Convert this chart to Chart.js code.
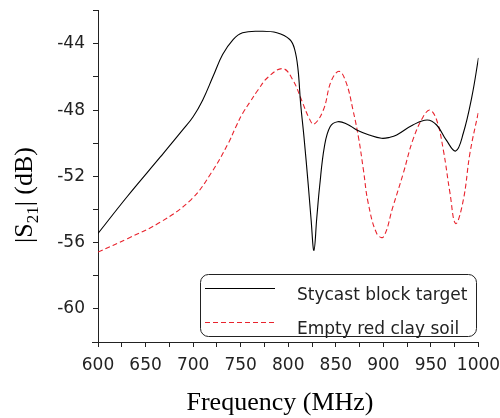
<!DOCTYPE html>
<html>
<head>
<meta charset="utf-8">
<script src="https://cdn.jsdelivr.net/npm/chart.js@4"></script>
<style>
  html, body { margin: 0; padding: 0; background: #fff; }
  #wrap { width: 500px; height: 418px; }
</style>
</head>
<body>
<div id="wrap"><canvas id="myChart" width="500" height="418"></canvas></div>
<script>
// values
var seriesNames = ["Stycast block target", "Empty red clay soil"];

var freqStycast = [600, 631, 666, 689, 700, 710, 721, 731, 742, 752, 770, 788, 801.6, 806.8, 810.3, 813, 816.5, 821, 824, 827, 830, 833, 838, 844, 852, 862, 872, 885, 898, 907, 914, 931, 946, 956, 966, 976, 984, 993, 1000];
var s21Stycast = [-55.45, -53.2, -50.8, -49.2, -48.4, -47.4, -45.96, -44.65, -43.74, -43.33, -43.24, -43.33, -43.74, -44.35, -45.56, -47.6, -49.6, -52.5, -54.6, -56.47, -54.5, -52.6, -50.2, -49.0, -48.7, -48.85, -49.2, -49.5, -49.7, -49.64, -49.5, -48.9, -48.6, -48.9, -49.8, -50.47, -49.4, -47.2, -44.85];

var freqClay = [600, 631, 666, 698, 719, 737, 745, 752, 760, 768, 779, 794.5, 805, 814, 822, 827, 837, 845, 853.5, 861, 868, 874, 879, 884, 893, 900, 910, 921, 931, 942, 949, 956, 963, 970, 976, 984, 991, 1000];
var s21Clay = [-56.57, -55.76, -54.75, -53.4, -51.8, -50.0, -49.0, -48.2, -47.5, -46.8, -46.0, -45.5, -46.2, -47.4, -48.5, -48.85, -47.98, -46.27, -45.66, -46.36, -47.98, -49.7, -51.6, -53.6, -55.45, -55.66, -53.84, -51.8, -49.8, -48.39, -48.0, -48.6, -50.4, -53.0, -54.85, -53.44, -50.6, -48.08];

function pts(xs, ys) {
  return xs.map(function (x, i) { return { x: x, y: ys[i] }; });
}

var axisColor = "#222";
var tickFont = { family: "DejaVu Sans", size: 17 };

// titles and the boxed legend are drawn by hand
var decorations = {
  id: "decorations",
  afterDraw: function (chart) {
    var ctx = chart.ctx, a = chart.chartArea;
    ctx.save();

    // x axis line reaches under the y ticks
    ctx.strokeStyle = axisColor;
    ctx.lineWidth = 1;
    ctx.beginPath();
    ctx.moveTo(a.left - 6, Math.round(a.bottom) + 0.5);
    ctx.lineTo(a.left, Math.round(a.bottom) + 0.5);
    ctx.stroke();

    // x title
    ctx.fillStyle = "#000";
    ctx.font = "26px 'Liberation Serif'";
    ctx.textAlign = "center";
    ctx.textBaseline = "alphabetic";
    ctx.fillText("Frequency (MHz)", 280, 410);

    // y title with subscript
    ctx.save();
    ctx.translate(32, 243);
    ctx.rotate(-Math.PI / 2);
    ctx.textAlign = "left";
    var x = 0;
    ctx.font = "26px 'Liberation Serif'";
    ctx.fillText("|S", x, 0);
    x += ctx.measureText("|S").width;
    ctx.font = "17px 'Liberation Serif'";
    ctx.fillText("21", x, 6);
    x += ctx.measureText("21").width;
    ctx.font = "26px 'Liberation Serif'";
    ctx.fillText("| (dB)", x, 0);
    ctx.restore();

    // legend
    var bx = 200.5, by = 274.5, bw = 276, bh = 62, r = 8;
    ctx.beginPath();
    ctx.roundRect(bx, by, bw, bh, r);
    ctx.fillStyle = "#fff";
    ctx.fill();
    ctx.strokeStyle = "#222";
    ctx.lineWidth = 1;
    ctx.stroke();

    var ds = chart.data.datasets;
    var rows = [288.5, 322.5];
    ctx.font = "17px 'DejaVu Sans'";
    ctx.textAlign = "left";
    for (var i = 0; i < ds.length; i++) {
      ctx.beginPath();
      ctx.setLineDash(ds[i].borderDash || []);
      ctx.strokeStyle = ds[i].borderColor;
      ctx.lineWidth = 1;
      ctx.moveTo(205, rows[i]);
      ctx.lineTo(275, rows[i]);
      ctx.stroke();
      ctx.setLineDash([]);
      ctx.fillStyle = "#222";
      ctx.fillText(ds[i].label, 297, rows[i] + 11);
    }
    ctx.restore();
  }
};

new Chart("myChart", {
  type: "line",
  data: {
    datasets: [{
      label: seriesNames[0],
      data: pts(freqStycast, s21Stycast),
      borderColor: "#000",
      borderWidth: 1.1,
      pointRadius: 0,
      tension: 0.4,
      fill: false
    }, {
      label: seriesNames[1],
      data: pts(freqClay, s21Clay),
      borderColor: "#e8232d",
      borderWidth: 1.1,
      borderDash: [5, 3],
      pointRadius: 0,
      tension: 0.4,
      fill: false
    }]
  },
  options: {
    responsive: false,
    animation: false,
    layout: { padding: 0 },
    plugins: {
      legend: { display: false },
      tooltip: { enabled: false }
    },
    scales: {
      x: {
        type: "linear",
        min: 600,
        max: 1000,
        afterFit: function (s) {
          s.height = 76;
          s.paddingLeft = 0;
          s.paddingRight = 21.5;
        },
        ticks: {
          stepSize: 25,
          autoSkip: false,
          maxRotation: 0,
          padding: 8,
          color: axisColor,
          font: tickFont,
          callback: function (v) { return v % 50 === 0 ? String(v) : ""; }
        },
        grid: { drawOnChartArea: false, tickLength: 5, color: axisColor },
        border: { color: axisColor, width: 1 }
      },
      y: {
        min: -62,
        max: -42,
        afterFit: function (s) {
          s.width = 98;
          s.paddingTop = 10.7;
          s.paddingBottom = 0;
        },
        ticks: {
          stepSize: 2,
          autoSkip: false,
          padding: 8,
          color: axisColor,
          font: tickFont,
          callback: function (v) { return v % 4 === 0 ? String(v) : ""; }
        },
        grid: { drawOnChartArea: false, tickLength: 5, color: axisColor },
        border: { color: axisColor, width: 1 }
      }
    }
  },
  plugins: [decorations]
});
</script>
</body>
</html>
